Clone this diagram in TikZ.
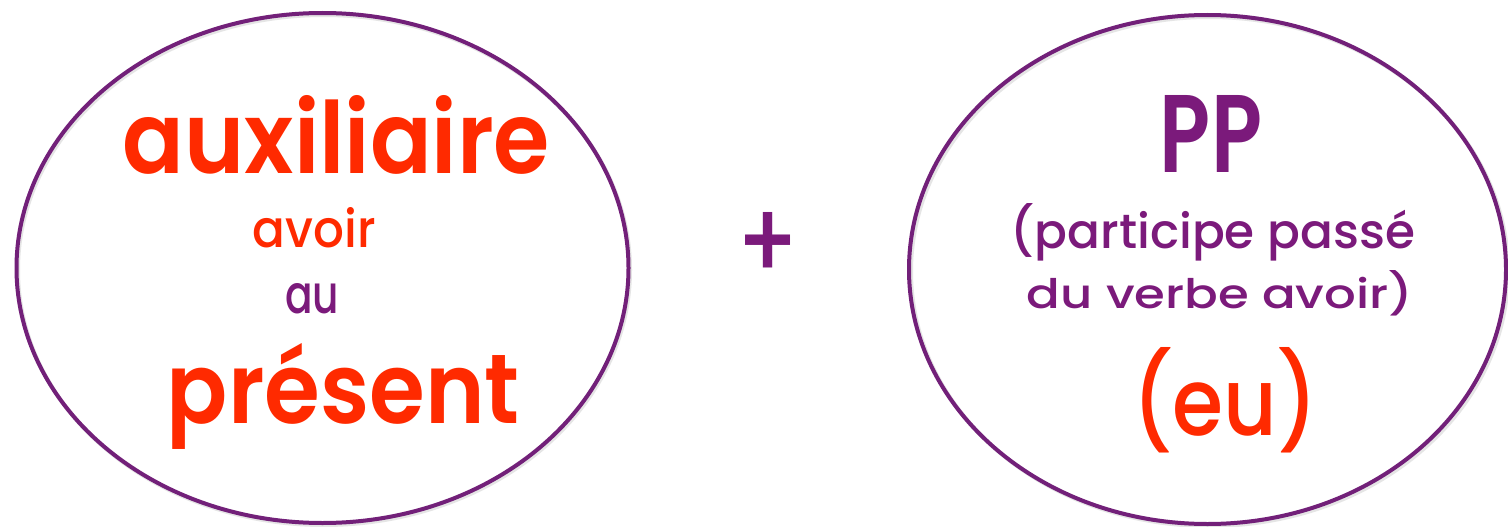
\documentclass[tikz,border=0pt]{standalone}
\usepackage{fontspec}
\setmainfont{Poppins Medium}[BoldFont={Poppins SemiBold}]
\usepackage{graphicx}
\definecolor{ovalpurple}{HTML}{722079}
\definecolor{txtpurple}{HTML}{7B1A7B}
\definecolor{txtred}{HTML}{FF2A00}
\newcommand{\fitbox}[3]{\resizebox{#1}{#2}{#3}}
\begin{document}
\begin{tikzpicture}[x=1pt,y=-1pt,
  oval/.style={draw=ovalpurple,line width=4pt},
  ovalshadow/.style={draw=black!10,line width=4pt},
  lbl/.style={anchor=base,inner sep=0pt,outer sep=0pt}]
\useasboundingbox (0,0) rectangle (1508,527);
\fill[white] (0,0) rectangle (1508,527);
% shadows
\draw[ovalshadow] (324,270) ellipse [x radius=306,y radius=255];
\draw[ovalshadow] (1209.5,271.5) ellipse [x radius=298.5,y radius=254.5];
% ovals
\draw[oval] (322.5,268) ellipse [x radius=306,y radius=255];
\draw[oval] (1207.5,269.5) ellipse [x radius=298.5,y radius=254.5];
\node (lc) at (322.5,268) {};
\node (rc) at (1207.5,269.5) {};
% left text
\node[lbl,text=txtred] (aux) at (336.5,173) {\fitbox{427pt}{78pt}{\bfseries auxiliaire}};
\node[lbl,text=txtred] (avoir) at (314.5,247) {\fitbox{123pt}{40pt}{avoir}};
\node[lbl,text=txtpurple] (au) at (312,313) {\fitbox{54pt}{30pt}{au}};
\node[lbl,text=txtred] (pres) at (343.5,423) {\fitbox{353pt}{80pt}{\bfseries présent}};
% plus
\node[lbl,text=txtpurple] (plus) at (768,279) {\fitbox{63pt}{67pt}{+}};
% right text
\node[lbl,text=txtpurple] (pp) at (1211,172) {\fitbox{102pt}{77pt}{\bfseries PP}};
\node[lbl,text=txtpurple] (part) at (1213,248) {\fitbox{404pt}{45pt}{(participe passé}};
\node[lbl,text=txtpurple] (verbe) at (1220,308) {\fitbox{386pt}{38pt}{du verbe avoir)}};
\node[lbl,text=txtred] (eu) at (1225,435) {\fitbox{186pt}{88pt}{(eu)}};
\end{tikzpicture}
\end{document}
